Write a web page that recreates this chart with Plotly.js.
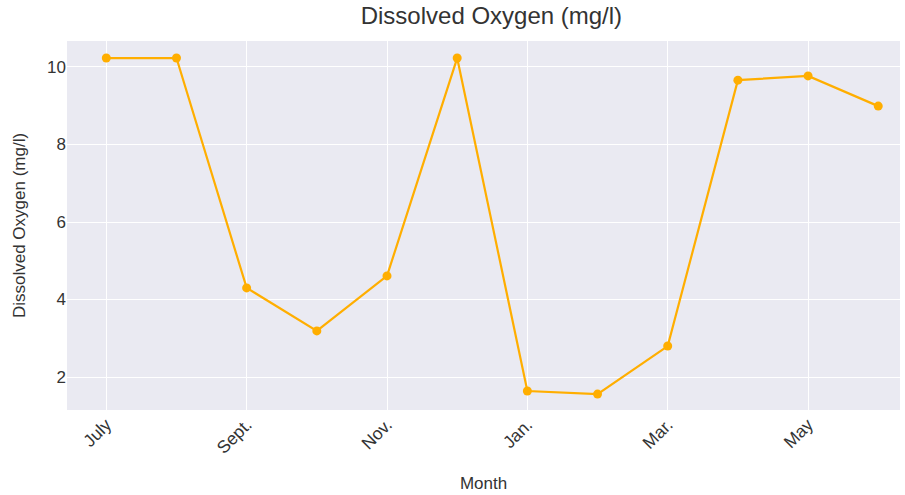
<!DOCTYPE html>
<html>
<head>
<meta charset="utf-8">
<script src="https://cdn.plot.ly/plotly-3.0.1.min.js"></script>
<style>html,body{margin:0;padding:0;background:#fff;}#chart{width:905px;height:495px;}</style>
</head>
<body>
<div id="chart"></div>
<script>
const months = ["July","Aug.","Sept.","Oct.","Nov.","Dec.","Jan.","Feb.","Mar.","Apr.","May","June"];
const oxygen = [10.23, 10.23, 4.30, 3.19, 4.61, 10.23, 1.64, 1.56, 2.80, 9.66, 9.77, 8.99];
const tickLabels = ["July","Sept.","Nov.","Jan.","Mar.","May"];

const trace = {
  x: months, y: oxygen, type: "scatter", mode: "lines+markers",
  line: {color: "#FFAE00", width: 2.2},
  marker: {color: "#FFAE00", size: 9},
  hoverinfo: "x+y"
};
const layout = {
  width: 905, height: 495,
  margin: {l: 67, r: 5, t: 41, b: 85},
  paper_bgcolor: "#ffffff",
  plot_bgcolor: "#EAEAF2",
  font: {family: "Liberation Sans, Arial, sans-serif", color: "#333333"},
  title: {text: "Dissolved Oxygen (mg/l)", font: {size: 24, color: "#333333"}, x: 0.543, xanchor: "center", y: 0.985, yanchor: "top"},
  showlegend: false,
  xaxis: {
    type: "category",
    range: [-0.56, 11.31],
    tickmode: "array", tickvals: tickLabels, ticktext: tickLabels,
    tickangle: -45,
    tickfont: {size: 17.5, color: "#333333"},
    showgrid: true, gridcolor: "#ffffff", gridwidth: 1,
    zeroline: false, showline: false, ticks: "",
    title: {text: "Month", font: {size: 17, color: "#333333"}, standoff: 20}
  },
  yaxis: {
    range: [1.15, 10.67],
    tickvals: [2, 4, 6, 8, 10],
    tickfont: {size: 17, color: "#333333"},
    showgrid: true, gridcolor: "#ffffff", gridwidth: 1,
    zeroline: false, showline: false, ticks: "",
    title: {text: "Dissolved Oxygen (mg/l)", font: {size: 17, color: "#333333"}, standoff: 17}
  }
};
Plotly.newPlot("chart", [trace], layout, {displayModeBar: false, staticPlot: true});
</script>
</body>
</html>
